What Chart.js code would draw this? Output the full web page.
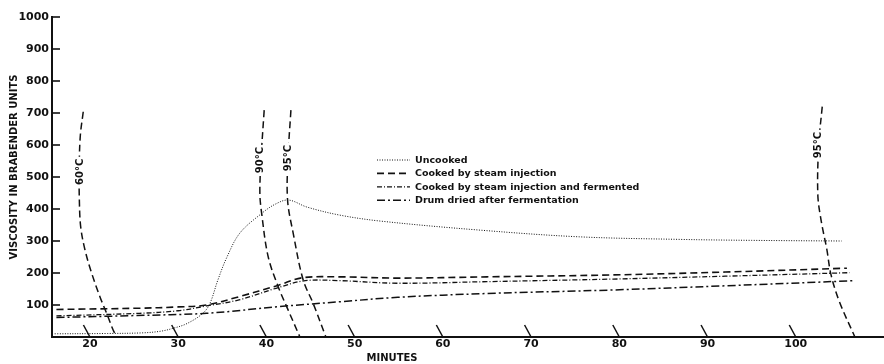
<!DOCTYPE html>
<html>
<head>
<meta charset="utf-8">
<script src="https://cdn.jsdelivr.net/npm/chart.js@4"></script>
<style>
  html, body { margin: 0; padding: 0; background: #fff; }
</style>
</head>
<body>
<canvas id="viscChart" width="884" height="364"></canvas>
<script>
// Viscosity (Brabender units) against time, four treatments + temperature marks

const xTickValues = [20, 30, 40, 50, 60, 70, 80, 90, 100];
const yTickValues = [100, 200, 300, 400, 500, 600, 700, 800, 900, 1000];

const uncookedMinutes = [16, 22, 26, 28, 29.4, 31, 32.8, 33.6, 34.5, 35.5, 37, 39.5, 41, 42.5, 44.6, 48.3, 53, 64.2, 75.5, 86.9, 95, 105.2];
const uncookedValues  = [10, 11, 13, 18, 27, 42, 74, 105, 178, 248, 325, 387, 415, 428, 406, 381, 362, 334, 313, 305, 302, 300];

const steamMinutes = [16.2, 25.6, 30, 33.2, 36.9, 41.4, 44, 48.3, 54.9, 65, 79.3, 92, 105.8];
const steamValues  = [86, 90, 94, 100, 126, 162, 185, 188, 184, 188, 194, 203, 215];

const fermMinutes = [16.2, 25.6, 30, 33.2, 36.9, 41.4, 44.4, 48.3, 54.9, 65, 79.3, 92, 106.1];
const fermValues  = [66, 74, 82, 97, 116, 155, 176, 176, 168, 173, 181, 190, 201];

const drumMinutes = [16.2, 25, 33.2, 41.4, 48.3, 54.9, 65, 79.3, 92, 106.7];
const drumValues  = [61, 67, 74, 95, 110, 124, 136, 147, 160, 176];

// temperature curves
const t60Minutes = [19.24, 18.9, 18.78, 18.8, 18.95, 19.44, 20.19, 21.13, 21.88, 22.63, 23.05];
const t60Values  = [704, 626, 520, 428, 345, 272, 200, 126, 75, 22, 0];

const t90Minutes = [39.75, 39.4, 39.26, 39.46, 40.2, 41.34, 42.47, 43.8];
const t90Values  = [709, 560, 449, 387, 251, 157, 84, 0];

const t95aMinutes = [42.78, 42.45, 42.4, 43.04, 44.17, 45.3, 46.74];
const t95aValues  = [709, 560, 428, 324, 178, 105, 0];

const t95bMinutes = [103.0, 102.6, 102.5, 102.9, 103.5, 104.0, 104.95, 106.7];
const t95bValues  = [720, 600, 444, 360, 277, 194, 110, 0];

const toPoints = (xs, ys) => xs.map((x, i) => ({ x: x, y: ys[i] }));

const FONT = '"DejaVu Sans", sans-serif';
const INK = '#111';

function series(label, xs, ys, dash, width) {
  return {
    label: label,
    data: toPoints(xs, ys),
    borderColor: INK,
    borderWidth: width,
    borderDash: dash,
    showLine: true,
    pointRadius: 0,
    tension: 0.35,
    fill: false
  };
}

function tempCurve(label, xs, ys, labelAt) {
  const ds = series(label, xs, ys, [7, 4], 1.5);
  ds.curveLabel = label;
  ds.labelAt = labelAt;
  return ds;
}

const datasets = [
  series('Uncooked', uncookedMinutes, uncookedValues, [1, 1.5], 1),
  series('Cooked by steam injection', steamMinutes, steamValues, [7, 4], 1.6),
  series('Cooked by steam injection and fermented', fermMinutes, fermValues, [5, 2, 1, 2], 1.3),
  series('Drum dried after fermentation', drumMinutes, drumValues, [8, 3, 2, 3], 1.5),
  tempCurve('60°C', t60Minutes, t60Values, { x: 18.85, y: 516 }),
  tempCurve('90°C', t90Minutes, t90Values, { x: 39.25, y: 553 }),
  tempCurve('95°C', t95aMinutes, t95aValues, { x: 42.35, y: 559 }),
  tempCurve('95°C', t95bMinutes, t95bValues, { x: 102.45, y: 600 })
];

// slanted x ticks, inside y ticks, titles, legend, curve labels
const decor = {
  id: 'decor',
  afterDatasetsDraw(chart) {
    const ctx = chart.ctx;
    const xs = chart.scales.x, ys = chart.scales.y;
    const area = chart.chartArea;
    ctx.save();
    ctx.strokeStyle = INK;
    ctx.fillStyle = INK;
    ctx.setLineDash([]);

    // y ticks pointing into the plot
    ctx.lineWidth = 1.6;
    yTickValues.forEach(v => {
      const py = ys.getPixelForValue(v);
      ctx.beginPath();
      ctx.moveTo(area.left, py);
      ctx.lineTo(area.left + 8, py);
      ctx.stroke();
    });

    // x ticks drawn slanted
    ctx.lineWidth = 1.5;
    xTickValues.forEach(v => {
      const px = xs.getPixelForValue(v);
      ctx.beginPath();
      ctx.moveTo(px - 6.5, area.bottom - 12);
      ctx.lineTo(px, area.bottom);
      ctx.stroke();
    });

    // temperature labels, cut into their curves
    ctx.font = 'bold 10px ' + FONT;
    ctx.textAlign = 'center';
    ctx.textBaseline = 'middle';
    chart.data.datasets.forEach(ds => {
      if (!ds.curveLabel) return;
      const px = xs.getPixelForValue(ds.labelAt.x);
      const py = ys.getPixelForValue(ds.labelAt.y);
      const w = ctx.measureText(ds.curveLabel).width;
      ctx.save();
      ctx.translate(px, py);
      ctx.rotate(-Math.PI / 2);
      ctx.fillStyle = '#fff';
      ctx.fillRect(-w / 2 - 2, -6, w + 4, 12);
      ctx.fillStyle = INK;
      ctx.fillText(ds.curveLabel, 0, 1);
      ctx.restore();
    });

    // legend
    const legX = 377, legY = 160, rowH = 13.4;
    ctx.textAlign = 'left';
    ctx.font = 'bold 9.5px ' + FONT;
    chart.data.datasets.filter(ds => !ds.curveLabel).forEach((ds, i) => {
      const y = legY + i * rowH;
      ctx.lineWidth = ds.borderWidth;
      ctx.setLineDash(ds.borderDash);
      ctx.beginPath();
      ctx.moveTo(legX, y);
      ctx.lineTo(legX + 33, y);
      ctx.stroke();
      ctx.setLineDash([]);
      ctx.fillText(ds.label, legX + 38, y + 0.5);
    });

    // axis titles
    ctx.font = 'bold 10px ' + FONT;
    ctx.textAlign = 'center';
    ctx.fillText('MINUTES', 392, 358);
    ctx.save();
    ctx.translate(14, 167);
    ctx.rotate(-Math.PI / 2);
    ctx.fillText('VISCOSITY IN BRABENDER UNITS', 0, 0);
    ctx.restore();

    ctx.restore();
  }
};

new Chart(document.getElementById('viscChart').getContext('2d'), {
  type: 'scatter',
  data: { datasets: datasets },
  options: {
    responsive: false,
    animation: false,
    layout: { padding: { top: 17, right: 0, left: 0, bottom: 0 } },
    plugins: {
      legend: { display: false },
      tooltip: { enabled: false }
    },
    scales: {
      x: {
        type: 'linear',
        min: 15.7,
        max: 110,
        afterFit: s => { s.height = 27; },
        afterBuildTicks: s => { s.ticks = xTickValues.map(v => ({ value: v })); },
        grid: { display: false, drawTicks: false },
        border: { display: true, color: INK, width: 2 },
        ticks: {
          color: INK,
          font: { family: FONT, size: 11, weight: 'bold' },
          padding: 1,
          maxRotation: 0,
          callback: v => String(v)
        }
      },
      y: {
        type: 'linear',
        min: 0,
        max: 1000,
        afterFit: s => { s.width = 52; },
        afterBuildTicks: s => { s.ticks = yTickValues.map(v => ({ value: v })); },
        grid: { display: false, drawTicks: false },
        border: { display: true, color: INK, width: 2 },
        ticks: {
          color: INK,
          font: { family: FONT, size: 11, weight: 'bold' },
          padding: 3,
          callback: v => String(v)
        }
      }
    }
  },
  plugins: [decor]
});
</script>
</body>
</html>
